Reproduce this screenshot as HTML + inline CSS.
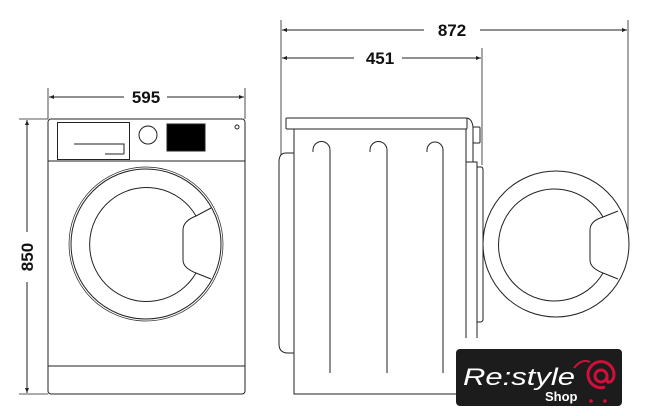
<!DOCTYPE html>
<html><head><style>html,body{margin:0;padding:0;background:#fff;}svg{display:block}</style></head>
<body>
<svg width="649" height="416" viewBox="0 0 649 416" xmlns="http://www.w3.org/2000/svg" font-family="Liberation Sans, sans-serif">
<defs>
<marker id="a" viewBox="0 0 10 10" refX="10" refY="5" markerWidth="7" markerHeight="5" orient="auto-start-reverse" markerUnits="userSpaceOnUse"><path d="M0,1 L10,5 L0,9z" fill="#222"/></marker>
</defs>
<g stroke="#222" stroke-width="1" fill="none">
<line x1="48" y1="88" x2="48" y2="119" stroke-width="0.8"/>
<line x1="245" y1="88" x2="245" y2="119" stroke-width="0.8"/>
<line x1="49" y1="97" x2="124" y2="97" marker-start="url(#a)"/>
<line x1="167" y1="97" x2="244" y2="97" marker-end="url(#a)"/>
<line x1="19" y1="119" x2="48" y2="119" stroke-width="0.8"/>
<line x1="19" y1="394" x2="48" y2="394" stroke-width="0.8"/>
<line x1="27" y1="120" x2="27" y2="232" marker-start="url(#a)"/>
<line x1="27" y1="282" x2="27" y2="393" marker-end="url(#a)"/>
<rect x="48" y="119" width="197" height="275" rx="3"/>
<line x1="48" y1="161" x2="245" y2="161"/>
<line x1="48" y1="366" x2="245" y2="366"/>
<rect x="57.5" y="122.5" width="72" height="37"/>
<path d="M74,144 H124 V154 M105,154 H124"/>
<circle cx="148" cy="135" r="9"/>
<rect x="167" y="124" width="38" height="27" fill="#000"/>
<circle cx="237" cy="127" r="2"/>
<circle cx="146" cy="244" r="77" stroke-width="0.7"/>
<circle cx="146" cy="244" r="75"/>
<path d="M211,208 L196,216 Q183,221 183,230 L183,260 Q183,268 196,273 L211,279"/>
<path d="M196,216 A57,57 0 1 0 196,273"/>
<line x1="281" y1="20" x2="281" y2="155" stroke-width="0.8"/>
<line x1="482" y1="48" x2="482" y2="165" stroke-width="0.8"/>
<line x1="628" y1="20" x2="628" y2="230" stroke-width="0.8"/>
<line x1="282" y1="30" x2="424" y2="30" marker-start="url(#a)"/>
<line x1="480" y1="30" x2="627" y2="30" marker-end="url(#a)"/>
<line x1="282" y1="58" x2="354" y2="58" marker-start="url(#a)"/>
<line x1="402" y1="58" x2="481" y2="58" marker-end="url(#a)"/>
<rect x="286" y="118" width="181" height="11" rx="1"/>
<path d="M294,129 V394 H466 M466,129 V338"/>
<path d="M467,118 Q472,119 473,127 V162 M466,162 H477 V338"/>
<rect x="473" y="127" width="7" height="16" rx="1"/>
<path d="M477,167 H481 Q483,167 483,170 V319 Q483,322 480,322 H477"/>
<path d="M294,153 H286 Q279,153 279,162 V344 Q279,353 288,353 H294"/>
<path d="M313,152 V150 A8.5,8.5 0 0 1 330,150 V373"/>
<path d="M370,152 V150 A8.5,8.5 0 0 1 387,150 V373"/>
<path d="M427,152 V150 A8,8 0 0 1 443,150 V373"/>
<circle cx="556" cy="244" r="73"/>
<path d="M618,211 L603,217 Q590,221 590,230 L590,260 Q590,268 603,273 L618,279"/>
<path d="M603,217 A56,56 0 1 0 603,273"/>
</g>
<g font-weight="bold" font-size="17" fill="#111" text-anchor="middle">
<text x="146" y="103">595</text>
<text x="452" y="36">872</text>
<text x="380" y="64">451</text>
<text x="0" y="0" transform="translate(33,257) rotate(-90)">850</text>
</g>
<rect x="456" y="349" width="166" height="57" rx="4" fill="#1c1c1c"/>
<text x="463" y="385" font-size="24" font-style="italic" fill="#fff" textLength="112" lengthAdjust="spacingAndGlyphs">Re:style</text>
<text x="545" y="401" font-size="13" font-weight="bold" fill="#fff">Shop</text>
<g stroke="#d0103a" stroke-width="3" fill="none">
<circle cx="601" cy="376" r="6"/>
<path d="M607,376 v4 q0,3 3,2 q4,-2 4,-8 a13,13 0 1 0 -9,13"/>
<path d="M574,368 q8,-10 16,-6" stroke-width="2"/>
</g>
<circle cx="591" cy="401" r="1.8" fill="#d0103a"/><circle cx="605" cy="401" r="1.8" fill="#d0103a"/>
</svg>
</body></html>
